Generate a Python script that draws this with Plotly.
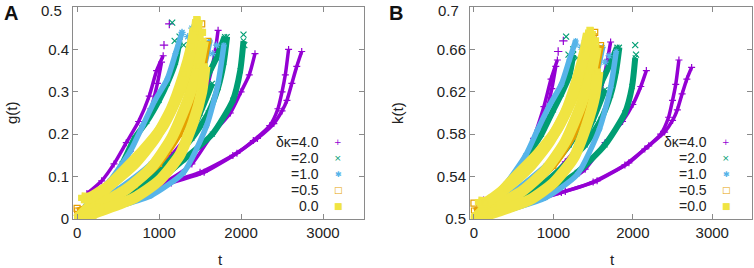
import plotly.graph_objects as go

# ---------------- data (trajectories: t, g(t) for panel A, k(t) for panel B) ----------------
# delta kappa = 4.0 (purple)
T_P1 = [120, 300, 450, 600, 750, 880, 970, 1050]
G_P1 = [0.06, 0.09, 0.13, 0.18, 0.23, 0.29, 0.35, 0.385]
K_P1 = [0.518, 0.521, 0.528, 0.546, 0.576, 0.606, 0.632, 0.65]
T_P2 = [200, 450, 650, 800, 900, 980, 1030]
G_P2 = [0.05, 0.1, 0.16, 0.22, 0.26, 0.32, 0.37]
K_P2 = [0.519, 0.532, 0.552, 0.577, 0.598, 0.623, 0.644]
T_P3 = [300, 600, 900, 1150, 1350, 1500, 1600, 1680, 1720]
G_P3 = [0.03, 0.06, 0.1, 0.15, 0.2, 0.26, 0.32, 0.39, 0.445]
K_P3 = [0.51, 0.52, 0.535, 0.554, 0.574, 0.598, 0.622, 0.65, 0.667]
T_P4 = [350, 700, 1100, 1400, 1650, 1870, 2000, 2100, 2170]
G_P4 = [0.02, 0.05, 0.09, 0.13, 0.2, 0.25, 0.3, 0.34, 0.39]
K_P4 = [0.507, 0.517, 0.531, 0.547, 0.572, 0.592, 0.608, 0.625, 0.64]
T_P5 = [150, 400, 700, 1100, 1500, 1900, 2200, 2400, 2500, 2560, 2620, 2680, 2740]
G_P5 = [0.005, 0.03, 0.055, 0.085, 0.11, 0.15, 0.19, 0.225, 0.255, 0.28, 0.32, 0.36, 0.395]
K_P5 = [0.502, 0.51, 0.517, 0.525, 0.535, 0.551, 0.569, 0.582, 0.593, 0.603, 0.618, 0.632, 0.643]
T_P6 = [200, 450, 750, 1150, 1550, 1950, 2150, 2350, 2450, 2500, 2540, 2580]
G_P6 = [0.005, 0.03, 0.055, 0.085, 0.11, 0.155, 0.185, 0.22, 0.26, 0.3, 0.34, 0.4]
K_P6 = [0.502, 0.51, 0.517, 0.526, 0.536, 0.553, 0.566, 0.58, 0.596, 0.612, 0.627, 0.65]
T_PX = [1125, 1060]
G_PX = [0.46, 0.41]
K_PX = [0.668, 0.658]

# delta kappa = 2.0 (green)
T_G1 = [150, 400, 550, 700, 850, 1000, 1100, 1200, 1250]
G_G1 = [0.03, 0.08, 0.13, 0.19, 0.23, 0.28, 0.32, 0.37, 0.42]
K_G1 = [0.508, 0.523, 0.54, 0.562, 0.58, 0.603, 0.618, 0.635, 0.655]
T_G2 = [200, 500, 900, 1200, 1400, 1600, 1720, 1790, 1830]
G_G2 = [0.02, 0.05, 0.1, 0.15, 0.19, 0.25, 0.31, 0.37, 0.43]
K_G2 = [0.506, 0.516, 0.535, 0.555, 0.57, 0.594, 0.617, 0.64, 0.662]
T_G3 = [250, 600, 900, 1300, 1650, 1900, 1990, 2030]
G_G3 = [0.02, 0.04, 0.075, 0.14, 0.2, 0.28, 0.35, 0.42]
K_G3 = [0.505, 0.513, 0.524, 0.544, 0.57, 0.6, 0.625, 0.652]
T_G4 = [200, 500, 900, 1200, 1450, 1600, 1700, 1800]
G_G4 = [0.02, 0.06, 0.12, 0.19, 0.27, 0.34, 0.38, 0.43]
K_G4 = [0.506, 0.52, 0.543, 0.57, 0.6, 0.628, 0.644, 0.662]
T_G5 = [250, 600, 1000, 1300, 1500, 1650]
G_G5 = [0.02, 0.05, 0.1, 0.17, 0.25, 0.32]
K_G5 = [0.506, 0.517, 0.536, 0.563, 0.594, 0.622]
T_GX = [1160, 1190, 1250, 1300, 2030, 2040]
G_GX = [0.463, 0.42, 0.43, 0.41, 0.435, 0.41]
K_GX = [0.672, 0.655, 0.66, 0.652, 0.664, 0.655]

# delta kappa = 1.0 (light blue)
T_B1 = [100, 400, 650, 800, 950, 1100, 1200, 1280]
G_B1 = [0.03, 0.09, 0.16, 0.22, 0.28, 0.33, 0.39, 0.44]
K_B1 = [0.51, 0.533, 0.56, 0.584, 0.607, 0.627, 0.65, 0.668]
T_B2 = [150, 500, 900, 1300, 1580, 1720, 1790]
G_B2 = [0.01, 0.03, 0.055, 0.11, 0.22, 0.32, 0.41]
K_B2 = [0.503, 0.51, 0.52, 0.542, 0.585, 0.624, 0.658]
T_B3 = [100, 500, 900, 1200, 1400, 1550, 1620]
G_B3 = [0.02, 0.07, 0.13, 0.2, 0.28, 0.36, 0.42]
K_B3 = [0.507, 0.526, 0.55, 0.577, 0.608, 0.639, 0.662]
T_BX = [1280, 1350, 1400, 1650, 1700]
G_BX = [0.44, 0.43, 0.45, 0.39, 0.41]
K_BX = [0.665, 0.662, 0.668, 0.648, 0.654]

# delta kappa = 0.5 (orange)
T_O1 = [0, 300, 700, 1000, 1250, 1450, 1550, 1600]
G_O1 = [0.02, 0.04, 0.08, 0.13, 0.2, 0.3, 0.37, 0.42]
K_O1 = [0.508, 0.515, 0.531, 0.55, 0.578, 0.617, 0.644, 0.664]
T_O2 = [50, 400, 800, 1100, 1300, 1400, 1450]
G_O2 = [0.02, 0.05, 0.1, 0.16, 0.25, 0.35, 0.43]
K_O2 = [0.508, 0.519, 0.539, 0.562, 0.597, 0.636, 0.668]
T_OX = [1500, 1450, 1520, 0]
G_OX = [0.44, 0.41, 0.46, 0.025]
K_OX = [0.672, 0.66, 0.676, 0.515]

# delta kappa = 0.0 (yellow)
T_Y1 = [0, 200, 500, 800, 1050, 1250, 1380, 1450, 1470]
G_Y1 = [0.0, 0.04, 0.1, 0.16, 0.22, 0.3, 0.38, 0.44, 0.47]
K_Y1 = [0.5, 0.514, 0.538, 0.561, 0.585, 0.616, 0.647, 0.67, 0.678]
T_Y2 = [0, 250, 600, 900, 1150, 1350, 1480, 1540]
G_Y2 = [0.0, 0.03, 0.07, 0.12, 0.19, 0.28, 0.36, 0.42]
K_Y2 = [0.5, 0.511, 0.526, 0.546, 0.573, 0.608, 0.639, 0.662]
T_Y3 = [0, 300, 700, 1000, 1250, 1420, 1520, 1560]
G_Y3 = [0.0, 0.02, 0.05, 0.09, 0.15, 0.23, 0.3, 0.36]
K_Y3 = [0.5, 0.507, 0.518, 0.534, 0.557, 0.589, 0.616, 0.639]
T_Y4 = [50, 150, 400, 700, 950, 1150, 1300, 1400, 1440]
G_Y4 = [0.05, 0.05, 0.08, 0.13, 0.19, 0.26, 0.34, 0.41, 0.45]
K_Y4 = [0.516, 0.516, 0.529, 0.549, 0.573, 0.6, 0.632, 0.66, 0.675]
T_Y5 = [0, 100, 200]
G_Y5 = [0.0, 0.0, 0.005]
K_Y5 = [0.5, 0.5, 0.502]
T_YX = [1460, 1480, 1500, 1530]
G_YX = [0.47, 0.45, 0.43, 0.44]
K_YX = [0.678, 0.672, 0.664, 0.668]

LEGEND_A = ["δκ=4.0", "=2.0", "=1.0", "=0.5", "0.0"]
LEGEND_B = ["δκ=4.0", "=2.0", "=1.0", "=0.5", "=0.0"]
X_TICKS = [0, 1000, 2000, 3000]
Y_TICKS_A = [0, 0.1, 0.2, 0.3, 0.4, 0.5]
Y_TICKTEXT_A = ["0", "0.1", "0.2", "0.3", "0.4", "0.5"]
Y_TICKS_B = [0.5, 0.54, 0.58, 0.62, 0.66, 0.7]
Y_TICKTEXT_B = ["0.5", "0.54", "0.58", "0.62", "0.66", "0.7"]

# ---------------- styling ----------------
COLORS = ["#9400D3", "#009E73", "#56B4E9", "#E69F00", "#F0E442"]
SYMBOLS = ["cross-thin-open", "x-thin-open", "asterisk-open", "square-open", "square"]
LWIDTH = [3.5, 6, 5.5, 6, 11]
LEG_GLYPH = ["+", "×", "✱", "□", "■"]

series = [
    [(T_P1, G_P1, K_P1), (T_P2, G_P2, K_P2), (T_P3, G_P3, K_P3), (T_P4, G_P4, K_P4),
     (T_P5, G_P5, K_P5), (T_P6, G_P6, K_P6)],
    [(T_G1, G_G1, K_G1), (T_G2, G_G2, K_G2), (T_G3, G_G3, K_G3), (T_G4, G_G4, K_G4),
     (T_G5, G_G5, K_G5)],
    [(T_B1, G_B1, K_B1), (T_B2, G_B2, K_B2), (T_B3, G_B3, K_B3)],
    [(T_O1, G_O1, K_O1), (T_O2, G_O2, K_O2)],
    [(T_Y1, G_Y1, K_Y1), (T_Y2, G_Y2, K_Y2), (T_Y3, G_Y3, K_Y3), (T_Y4, G_Y4, K_Y4),
     (T_Y5, G_Y5, K_Y5)],
]
extras = [(T_PX, G_PX, K_PX), (T_GX, G_GX, K_GX), (T_BX, G_BX, K_BX),
          (T_OX, G_OX, K_OX), (T_YX, G_YX, K_YX)]

fig = go.Figure()
for panel, (xa, ya) in enumerate([("x", "y"), ("x2", "y2")]):
    for i, trajs in enumerate(series):
        for (t, g, k) in trajs:
            fig.add_trace(go.Scatter(
                x=t, y=g if panel == 0 else k, xaxis=xa, yaxis=ya,
                mode="lines+markers", showlegend=False,
                line=dict(color=COLORS[i], width=LWIDTH[i], shape="spline", smoothing=0.6),
                marker=dict(symbol=SYMBOLS[i], size=5, color=COLORS[i],
                            line=dict(color=COLORS[i], width=1.2)),
                hoverinfo="skip"))
        t, g, k = extras[i]
        fig.add_trace(go.Scatter(
            x=t, y=g if panel == 0 else k, xaxis=xa, yaxis=ya,
            mode="markers", showlegend=False,
            marker=dict(symbol=SYMBOLS[i], size=6, color=COLORS[i],
                        line=dict(color=COLORS[i], width=1.2)),
            hoverinfo="skip"))

W, H = 754, 268
font = dict(family="Liberation Sans, Arial, sans-serif", size=15, color="#222")
axis_common = dict(showline=True, mirror="ticks", linecolor="#8a8a8a", linewidth=1,
                   ticks="inside", ticklen=5, tickcolor="#8a8a8a", showgrid=False,
                   zeroline=False, tickfont=font, ticklabeloverflow="allow",
                   automargin=False)
ydom = [1 - 219 / H, 1 - 7 / H]
# the top-most y tick label is placed as an annotation (slightly lowered, as in the reference)
fig.update_layout(
    width=W, height=H, margin=dict(l=0, r=0, t=0, b=0, autoexpand=False),
    paper_bgcolor="white", plot_bgcolor="white", showlegend=False,
    xaxis=dict(domain=[73 / W, 364 / W], range=[-50, 3500], tickvals=X_TICKS,
               anchor="y", **axis_common),
    yaxis=dict(domain=ydom, range=[0, 0.5], tickvals=Y_TICKS_A,
               ticktext=Y_TICKTEXT_A[:-1] + [""], anchor="x", **axis_common),
    xaxis2=dict(domain=[470 / W, 752 / W], range=[-50, 3500], tickvals=X_TICKS,
                anchor="y2", **axis_common),
    yaxis2=dict(domain=ydom, range=[0.5, 0.7], tickvals=Y_TICKS_B,
                ticktext=Y_TICKTEXT_B[:-1] + [""], anchor="x2", **axis_common),
)

ann = []
def A(x, y, text, xanchor="center", **kw):
    d = dict(x=x / W, y=1 - y / H, xref="paper", yref="paper", text=text,
             showarrow=False, font=kw.pop("font", font), xanchor=xanchor, yanchor="middle")
    d.update(kw)
    ann.append(d)

bold = dict(family="Liberation Sans, Arial", size=20, color="#111")
A(11, 13, "<b>A</b>", font=bold)
A(396, 13, "<b>B</b>", font=bold)
A(64, 11, Y_TICKTEXT_A[-1], xanchor="right")
A(461, 11, Y_TICKTEXT_B[-1], xanchor="right")
A(12, 113, "g(t)", textangle=-90)
A(398, 113, "k(t)", textangle=-90)
A(220, 259, "t")
A(612, 259, "t")
legfont = dict(family="Liberation Sans, Arial, sans-serif", size=14, color="#222")
rows = [142, 158, 174, 190, 206]
for j in range(5):
    A(321, rows[j], LEGEND_A[j], xanchor="right", font=legfont)
    A(709, rows[j], LEGEND_B[j], xanchor="right", font=legfont)
    gfont = dict(family="DejaVu Sans", size=9 if j != 2 else 8, color=COLORS[j])
    A(338, rows[j], LEG_GLYPH[j], font=gfont)
    A(726, rows[j], LEG_GLYPH[j], font=gfont)
fig.update_layout(annotations=ann)

fig.write_html("out.html", config={"displayModeBar": False},
               post_script="document.body.style.margin='0';document.body.style.padding='0';")
